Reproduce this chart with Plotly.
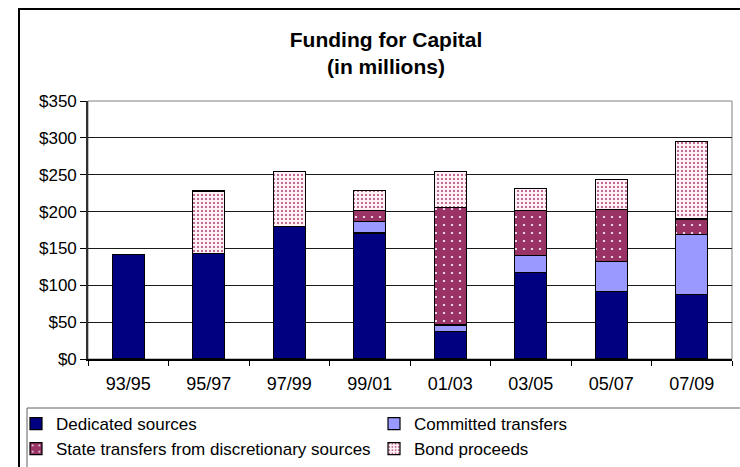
import plotly.graph_objects as go

categories = ["93/95", "95/97", "97/99", "99/01", "01/03", "03/05", "05/07", "07/09"]
dedicated = [142, 143, 180, 171, 37, 117, 92, 87]
committed = [None, None, None, 15, 9, 23, 40, 82]
state = [None, None, None, 15, 159, 61, 71, 21]
bond = [None, 85, 74, 28, 49, 30, 40, 105]
y_ticks = [0, 50, 100, 150, 200, 250, 300, 350]
y_tick_labels = ["$0", "$50", "$100", "$150", "$200", "$250", "$300", "$350"]

FONT = "Arial, Liberation Sans, sans-serif"
W, H = 740, 467
ML, MR, MT, MB = 88, 8, 101, 108
PW = W - ML - MR
PH = H - MT - MB


def px_x(px):
    return (px - ML) / PW


def px_y(py):
    return (H - MB - py) / PH


line = dict(color="black", width=1.2)
fig = go.Figure()
fig.add_trace(go.Bar(x=categories, y=dedicated, name="Dedicated sources",
                     marker=dict(color="#000080", line=line), legend="legend",
                     showlegend=True))
fig.add_trace(go.Bar(x=categories, y=committed, name="Committed transfers",
                     marker=dict(color="#9999FF", line=line), legend="legend2",
                     showlegend=True))
fig.add_trace(go.Bar(x=categories, y=state, name="State transfers from discretionary sources",
                     marker=dict(color="#993366", line=line,
                                 pattern=dict(shape=".", fgcolor="white", bgcolor="#993366",
                                              size=8, solidity=0.06, fillmode="replace")),
                     legend="legend3", showlegend=True))
fig.add_trace(go.Bar(x=categories, y=bond, name="Bond proceeds",
                     marker=dict(color="white", line=line,
                                 pattern=dict(shape=".", fgcolor="#B04C7E", bgcolor="#FFF0F6",
                                              size=4, solidity=0.22, fillmode="replace")),
                     legend="legend4", showlegend=True))

leg_common = dict(orientation="h", xanchor="left", yanchor="middle",
                  font=dict(family=FONT, size=17, color="black"),
                  bgcolor="rgba(0,0,0,0)", borderwidth=0, itemwidth=30)
col1, col2 = px_x(16), px_x(374)
row1, row2 = px_y(424), px_y(449)

fig.update_layout(
    width=W, height=H,
    showlegend=True,
    hovermode=False,
    margin=dict(l=ML, r=MR, t=MT, b=MB, autoexpand=False),
    paper_bgcolor="white", plot_bgcolor="white",
    barmode="stack", bargap=0.6,
    font=dict(family=FONT, color="black"),
    title=dict(text="<b>Funding for Capital<br>(in millions)</b>",
               font=dict(family=FONT, size=21, color="black"),
               x=px_x(386), xref="paper", xanchor="center",
               y=1 - 47 / H, yref="container", yanchor="middle"),
    legend=dict(x=col1, y=row1, **leg_common),
    legend2=dict(x=col2, y=row1, **leg_common),
    legend3=dict(x=col1, y=row2, **leg_common),
    legend4=dict(x=col2, y=row2, **leg_common),
    xaxis=dict(type="category", showline=True, linecolor="black", linewidth=1.5,
               ticks="outside", tickson="boundaries", ticklen=5, tickcolor="black",
               tickfont=dict(family=FONT, size=18, color="black"),
               ticklabelstandoff=8, showgrid=False),
    yaxis=dict(range=[0, 350], tickvals=y_ticks, ticktext=y_tick_labels,
               showline=True, linecolor="#303030", linewidth=1.8,
               ticks="outside", ticklen=6, tickcolor="black",
               tickfont=dict(family=FONT, size=17, color="black"),
               showgrid=True, gridcolor="#1a1a1a", gridwidth=1, zeroline=False),
    shapes=[
        dict(type="rect", xref="paper", yref="paper", x0=0, x1=1, y0=0, y1=1,
             line=dict(color="#808080", width=1), layer="below"),
        dict(type="rect", xref="paper", yref="paper", x0=px_x(19), x1=px_x(760),
             y0=px_y(490), y1=px_y(9), line=dict(color="black", width=2)),
        dict(type="rect", xref="paper", yref="paper", x0=px_x(27), x1=px_x(760),
             y0=px_y(490), y1=px_y(408), line=dict(color="#606060", width=1)),
    ],
)

fig.write_html("out.html", config={"staticPlot": True, "displayModeBar": False},
               post_script="document.body.style.margin='0';")
